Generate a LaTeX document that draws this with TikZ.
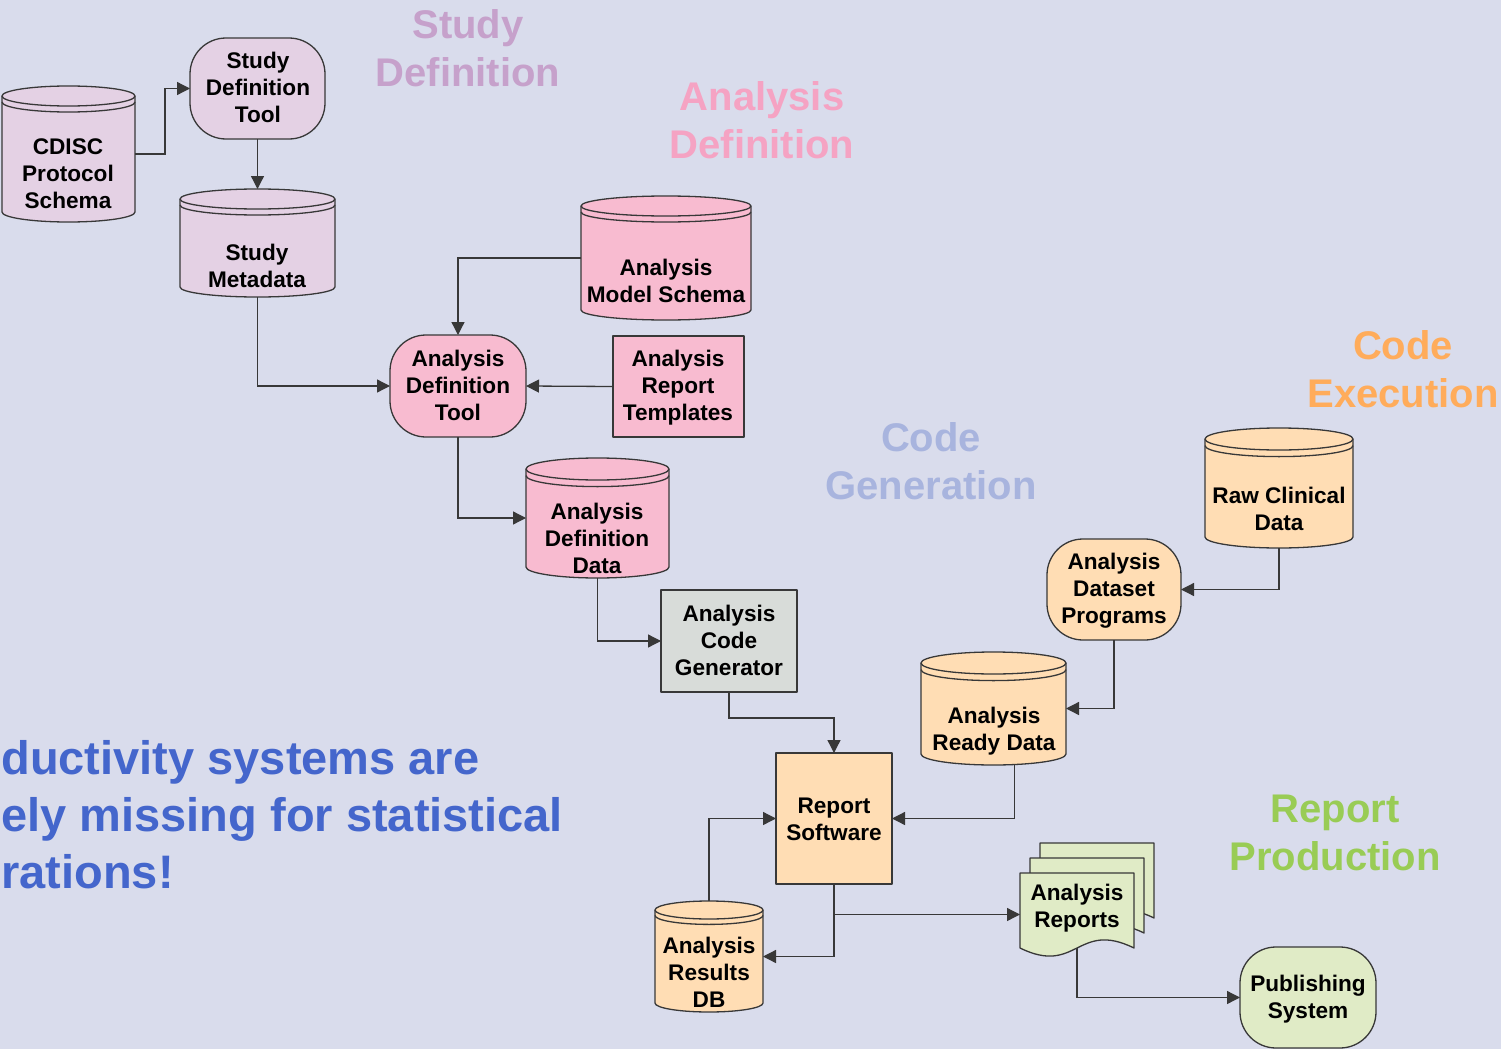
\documentclass[tikz,border=0pt]{standalone}
\usepackage{fontspec}
\setmainfont{Liberation Sans}
\usetikzlibrary{arrows.meta,fit}

\definecolor{bgcol}{HTML}{D9DCEC}
\definecolor{edgecol}{HTML}{383838}
\definecolor{studyfill}{HTML}{E4D1E4}
\definecolor{anafill}{HTML}{F8BBD0}
\definecolor{genfill}{HTML}{D8DCD9}
\definecolor{execfill}{HTML}{FFDDB4}
\definecolor{repfill}{HTML}{E0EBC6}
\definecolor{studytext}{HTML}{C6A1CB}
\definecolor{anatext}{HTML}{F5A3C3}
\definecolor{gentext}{HTML}{A8B4DE}
\definecolor{exectext}{HTML}{FFAC5B}
\definecolor{reptext}{HTML}{99CC55}
\definecolor{notetext}{HTML}{4466CC}

\tikzset{
  outline/.style={draw=edgecol, line width=0.65pt, line join=round},
  flow/.style={draw=edgecol, line width=0.65pt,
    -{Triangle[length=6.5pt,width=6.5pt]}},
  lbl/.style={font=\fontsize{11.3}{13.5}\selectfont\bfseries, align=center,
    text=black, inner sep=0pt},
  frame/.style={inner sep=0pt, outer sep=0pt},
  procbox/.style={outline, frame, lbl},
  roundbox/.style={procbox, rounded corners=18pt},
  phase/.style={font=\fontsize{20}{24}\selectfont\bfseries, align=center,
    inner sep=0pt},
  note/.style={font=\fontsize{23.5}{28.5}\selectfont\bfseries,
    text=notetext, inner sep=0pt, anchor=base west},
}

% database cylinder: name, x0, y0, x1, y1, fill, end radius
\newcommand\dbcyl[7]{%
  \pgfmathsetmacro\cxm{(#2+#4)/2}%
  \pgfmathsetmacro\crx{(#4-#2)/2}%
  \pgfmathsetmacro\ckx{0.5523*\crx}%
  \pgfmathsetmacro\cky{0.5523*#7}%
  \pgfmathsetmacro\ctop{#3+#7}%
  \pgfmathsetmacro\cbot{#5-#7}%
  \pgfmathsetmacro\cgap{\ctop+0.6*#7}%
  \path[outline, fill=#6]
    (#2,\ctop) -- (#2,\cbot)
    .. controls (#2,\cbot+\cky) and (\cxm-\ckx,#5) .. (\cxm,#5)
    .. controls (\cxm+\ckx,#5) and (#4,\cbot+\cky) .. (#4,\cbot)
    -- (#4,\ctop)
    .. controls (#4,\ctop-\cky) and (\cxm+\ckx,#3) .. (\cxm,#3)
    .. controls (\cxm-\ckx,#3) and (#2,\ctop-\cky) .. (#2,\ctop) -- cycle;
  \path[outline]
    (#2,\ctop) .. controls (#2,\ctop+\cky) and (\cxm-\ckx,\ctop+#7) .. (\cxm,\ctop+#7)
    .. controls (\cxm+\ckx,\ctop+#7) and (#4,\ctop+\cky) .. (#4,\ctop);
  \path[outline]
    (#2,\cgap) .. controls (#2,\cgap+\cky) and (\cxm-\ckx,\cgap+#7) .. (\cxm,\cgap+#7)
    .. controls (\cxm+\ckx,\cgap+#7) and (#4,\cgap+\cky) .. (#4,\cgap);
  \node[frame, fit={(#2,#3) (#4,#5)}] (#1) {};
}

% one sheet of a document stack: x0, y0 (top), x1, baseline of the wavy foot
\newcommand\docsheet[4]{%
  \pgfmathsetmacro\dxm{(#1+#3)/2}%
  \path[outline, fill=repfill]
    (#1,#2) -- (#3,#2) -- (#3,#4)
    .. controls (\dxm,#4-28) and (\dxm,#4+28) .. (#1,#4) -- cycle;
}

\begin{document}
\begin{tikzpicture}[x=0.5pt, y=-0.5pt]
\path[fill=bgcol] (0,0) rectangle (1501,1049);
\useasboundingbox (0,0) rectangle (1501,1049);

% phase headings
\node[phase, text=studytext] (hStudy) at (468,48) {Study\\Definition};
\node[phase, text=anatext] (hAna) at (762,120) {Analysis\\Definition};
\node[phase, text=gentext] (hGen) at (931,461) {Code\\Generation};
\node[phase, text=exectext] (hExec) at (1403,369) {Code\\Execution};
\node[phase, text=reptext] (hRep) at (1335,833) {Report\\Production};

% remark on the left
\node[note] (n1) at (1,774) {ductivity systems are};
\node[note] (n2) at (1,831) {ely missing for statistical};
\node[note] (n3) at (1,888) {rations!};

% study definition
\dbcyl{cdisc}{2}{86}{135}{222}{studyfill}{10}
\node[lbl] (cdiscT) at (68,174) {CDISC\\Protocol\\Schema};
\node[roundbox, fill=studyfill, fit={(190,38) (325,139)}] (sdt) {};
\node[lbl] (sdtT) at (258,87) {Study\\Definition\\Tool};
\dbcyl{smeta}{180}{189}{335}{297}{studyfill}{10}
\node[lbl] (smetaT) at (257,266) {Study\\Metadata};

% analysis definition
\dbcyl{ams}{581}{196}{751}{320}{anafill}{10}
\node[lbl] (amsT) at (666,281) {Analysis\\Model Schema};
\node[roundbox, fill=anafill, fit={(390,335) (526,437)}] (adt) {};
\node[lbl] (adtT) at (458,385) {Analysis\\Definition\\Tool};
\node[procbox, fill=anafill, fit={(613,336) (744,437)}] (art) {};
\node[lbl] (artT) at (678,388) {Analysis\\Report\\Templates};
\dbcyl{add}{526}{458}{669}{578}{anafill}{11}
\node[lbl] (addT) at (597,538) {Analysis\\Definition\\Data};

% code generation
\node[procbox, fill=genfill, fit={(661,590) (797,692)}] (acg) {};
\node[lbl] (acgT) at (729,640) {Analysis\\Code\\Generator};

% code execution
\dbcyl{rcd}{1205}{428}{1353}{548}{execfill}{11}
\node[lbl] (rcdT) at (1279,509) {Raw Clinical\\Data};
\node[roundbox, fill=execfill, fit={(1047,539) (1181,640)}] (adp) {};
\node[lbl] (adpT) at (1114,591) {Analysis\\Dataset\\Programs};
\dbcyl{ard}{921}{652}{1066}{765}{execfill}{11}
\node[lbl] (ardT) at (994,731) {Analysis\\Ready Data};
\node[procbox, fill=execfill, fit={(776,753) (892,884)}] (rs) {};
\node[lbl] (rsT) at (834,819) {Report\\Software};
\dbcyl{ardb}{655}{901}{763}{1012}{execfill}{9}
\node[lbl] (ardbT) at (709,972) {Analysis\\Results\\DB};

% report production
\docsheet{1040}{843}{1154}{918}
\docsheet{1030}{858}{1144}{933}
\docsheet{1020}{873}{1134}{948}
\node[frame, fit={(1020,873) (1134,956)}] (arep) {};
\coordinate (arepFoot) at (1077,948);
\node[lbl] (arepT) at (1077,908) {Analysis\\Reports};
\node[roundbox, fill=repfill, fit={(1240,947) (1376,1048)}] (pub) {};
\node[lbl] (pubT) at (1308,999) {Publishing\\System};

% data flow
\draw[flow] (cdisc.east) -- ++(30,0) |- (sdt.west);
\draw[flow] (sdt.south) -- (smeta.north);
\draw[flow] (smeta.south) |- (adt.west);
\draw[flow] (ams.west) -| (adt.north);
\draw[flow] (art.west) -- (adt.east);
\draw[flow] (adt.south) |- (add.west);
\draw[flow] (add.south) |- (acg.west);
\draw[flow] (acg.south) -- ++(0,26) -| (rs.north);
\draw[flow] (rcd.south) |- (adp.east);
\draw[flow] (adp.south) |- (ard.east);
\draw[flow] ([xshift=10.5pt]ard.south) |- (rs.east);
\draw[flow] (ardb.north) |- (rs.west);
\draw[flow] (rs.south) |- (ardb.east);
\draw[flow] (rs.south) |- (arep.west);
\draw[flow] (arepFoot) |- (pub.west);
\end{tikzpicture}
\end{document}
